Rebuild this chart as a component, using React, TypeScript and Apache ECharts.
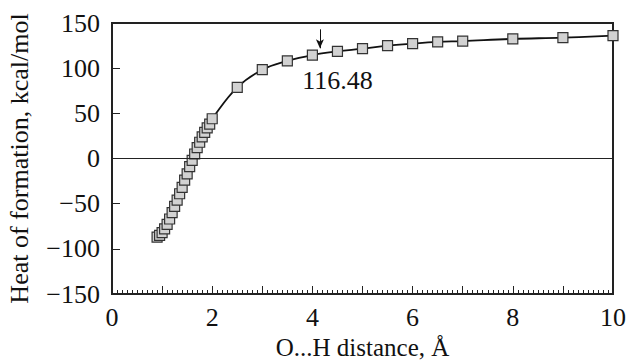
import React, { useEffect, useRef } from "react";
import * as echarts from "echarts";

const distances = [
  0.9, 0.95, 1.0, 1.05, 1.1, 1.15, 1.2, 1.25, 1.3, 1.35, 1.4, 1.45, 1.5, 1.55,
  1.6, 1.65, 1.7, 1.75, 1.8, 1.85, 1.9, 1.95, 2.0, 2.5, 3.0, 3.5, 4.0, 4.5, 5.0,
  5.5, 6.0, 6.5, 7.0, 8.0, 9.0, 10.0,
];
const heats = [
  -87, -85, -82, -78, -73, -67, -60, -53, -46, -39, -32, -24, -17, -9, -2, 5,
  12, 18, 24, 29, 34, 38, 44, 78.7, 98.3, 108, 114.5, 118.6, 121.6, 125, 127.2,
  129, 130, 132.4, 133.8, 136,
];
const xTicks = { min: 0, max: 10, interval: 1 };
const yTicks = { min: -150, max: 150, interval: 50 };
const annotationValue = "116.48";
const arrowX = 4.15;
const arrowFrom = 143;
const arrowTo = 122;
const labelPos = [4.5, 86];

const FONT = "'Liberation Serif', 'Times New Roman', Times, serif";
const FS = 26;

export default function App() {
  const ref = useRef<HTMLDivElement>(null);
  useEffect(() => {
    if (!ref.current) return;
    const chart = echarts.init(ref.current, undefined, { renderer: "svg" });
    const data = distances.map((d, i) => [d, heats[i]]);
    chart.setOption({
      animation: false,
      textStyle: { fontFamily: FONT, color: "#111" },
      grid: {
        left: 112,
        right: 17,
        top: 23,
        bottom: 70,
        containLabel: false,
        outerBoundsMode: "none",
        show: true,
        borderColor: "#222",
        borderWidth: 2,
        backgroundColor: "transparent",
      },
      xAxis: {
        type: "value",
        min: xTicks.min,
        max: xTicks.max,
        interval: xTicks.interval,
        name: "O...H distance, Å",
        nameLocation: "middle",
        nameGap: 40,
        nameTextStyle: { fontFamily: FONT, fontSize: 25, color: "#111", lineHeight: 26 },
        axisLine: { show: true, onZero: false, lineStyle: { color: "#222", width: 2 } },
        axisTick: { show: true, inside: true, length: 8, lineStyle: { color: "#222", width: 1 } },
        minorTick: { show: true, splitNumber: 10, length: 4, lineStyle: { color: "#222", width: 1 } },
        splitLine: { show: false },
        minorSplitLine: { show: false },
        axisLabel: {
          fontFamily: FONT,
          fontSize: FS,
          color: "#111",
          margin: 10,
          formatter: (v: number) => (v % 2 === 0 ? String(v) : ""),
        },
      },
      yAxis: {
        type: "value",
        min: yTicks.min,
        max: yTicks.max,
        interval: yTicks.interval,
        name: "Heat of formation, kcal/mol",
        nameLocation: "middle",
        nameGap: 80,
        nameTextStyle: { fontFamily: FONT, fontSize: FS, color: "#111" },
        axisLine: { show: true, onZero: false, lineStyle: { color: "#222", width: 2 } },
        axisTick: { show: true, inside: true, length: 8, lineStyle: { color: "#222", width: 1 } },
        splitLine: { show: false },
        axisLabel: {
          fontFamily: FONT,
          fontSize: FS,
          color: "#111",
          margin: 12,
          formatter: (v: number) => String(v).replace("-", "\u2212"),
        },
      },
      series: [
        {
          type: "line",
          data: [],
          markLine: {
            silent: true,
            symbol: ["none", "none"],
            label: { show: false },
            lineStyle: { color: "#222", width: 1, type: "solid" },
            data: [{ yAxis: 0 }],
          },
        },
        {
          type: "line",
          data,
          smooth: 0.4,
          symbol: "rect",
          symbolSize: 10,
          showSymbol: true,
          lineStyle: { color: "#111", width: 1.8 },
          itemStyle: { color: "#d2d2d2", borderColor: "#333", borderWidth: 1.2 },
          emphasis: { disabled: true },
          z: 3,
          markLine: {
            silent: true,
            symbol: ["none", "arrow"],
            symbolSize: [6, 9],
            label: { show: false },
            lineStyle: { color: "#111", width: 1, type: "solid" },
            data: [
              [
                { coord: [arrowX, arrowFrom] },
                { coord: [arrowX, arrowTo] },
              ],
            ],
          },
          markPoint: {
            silent: true,
            symbol: "circle",
            symbolSize: 0,
            data: [
              {
                coord: labelPos,
                label: {
                  show: true,
                  position: "inside",
                  formatter: annotationValue,
                  fontFamily: FONT,
                  fontSize: FS,
                  color: "#111",
                },
              },
            ],
          },
        },
      ],
    });
    return () => chart.dispose();
  }, []);
  return <div ref={ref} style={{ width: 630, height: 364, position: "absolute", left: 0, top: 0 }} />;
}
